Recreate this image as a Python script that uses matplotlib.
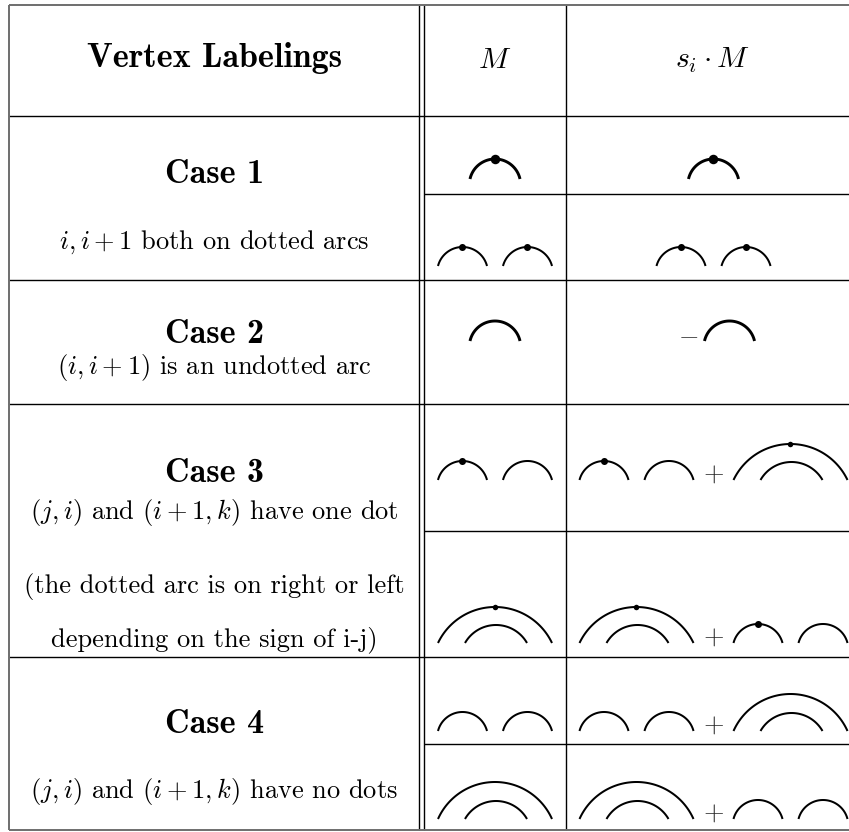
import matplotlib
matplotlib.use('Agg')
import matplotlib.pyplot as plt
import numpy as np

plt.rcParams['mathtext.fontset'] = 'cm'
plt.rcParams['font.family'] = 'cmr10'
plt.rcParams['axes.unicode_minus'] = False

# --- table text ---
header = ['Vertex Labelings', '$M$', r'$s_i \cdot M$']
case_titles = ['Case 1', 'Case 2', 'Case 3', 'Case 4']
case_notes = [
    ['$i, i+1$ both on dotted arcs'],
    ['$(i, i+1)$ is an undotted arc'],
    ['$(j, i)$ and $(i+1, k)$ have one dot',
     '(the dotted arc is on right or left',
     'depending on the sign of i-j)'],
    ['$(j, i)$ and $(i+1, k)$ have no dots'],
]

# --- arc diagrams: (left end, right end, height, dot) measured from the term's left end ---
one_dot = [(0, 50, 20, 'big')]
one_plain = [(0, 50, 20, None)]
two_dots = [(0, 49, 19, 'mid'), (65, 114, 19, 'mid')]
dot_plain = [(0, 49, 19, 'mid'), (65, 114, 19, None)]
two_plain = [(0, 49, 19, None), (65, 114, 19, None)]
nest_dot = [(0, 114, 36, 'small'), (27, 89, 18, None)]
nest_plain = [(0, 114, 37, None), (27, 89, 18, None)]

# one entry per diagram row, M column then s_i.M column
m_cells = [[one_dot], [two_dots], [one_plain], [dot_plain], [nest_dot],
           [two_plain], [nest_plain]]
s_cells = [[one_dot], [two_dots], ['-', one_plain],
           [dot_plain, '+', nest_dot], [nest_dot, '+', dot_plain],
           [two_plain, '+', nest_plain], [nest_plain, '+', two_plain]]

# --- layout (pixels) ---
W, H = 849, 832
x_left, x_dbl1, x_dbl2, x_mid, x_right = 9.5, 419, 424, 566, 860
y_top, y_bot = 5, 830
y_head = 116
y_case = [280, 404, 657]
y_sub = [194, 531, 744]
arc_base = [179, 266, 341, 480, 643, 731, 819]
title_base = [183, 343, 482, 733]
note_base = [[249], [374], [519, 593, 646], [798]]
op_width = {'+': 40, '-': 32}
dot_px = {'big': 9.5, 'mid': 7.0, 'small': 5.5}
thick_terms = [one_dot, one_plain]

fig = plt.figure(figsize=(W / 100, H / 100), dpi=100)
ax = fig.add_axes([0, 0, 1, 1])
ax.set_xlim(0, W)
ax.set_ylim(H, 0)
ax.axis('off')

# grid lines
lk = dict(color='black', lw=1.0, solid_capstyle='butt')
for x in [x_dbl1, x_dbl2, x_mid]:
    ax.plot([x, x], [y_top, y_bot], **lk)
for y in [y_head] + y_case:
    ax.plot([x_left, W], [y, y], **lk)
for y in y_sub:
    ax.plot([x_dbl2, W], [y, y], **lk)
bk = dict(color='#6e6e6e', lw=1.4, solid_capstyle='butt')
ax.plot([x_left, W], [y_top, y_top], **bk)
ax.plot([x_left, W], [y_bot, y_bot], **bk)
ax.plot([x_left, x_left], [y_top, y_bot], **bk)

# text
c1 = (x_left + x_dbl1) / 2
bold = dict(fontname='cmb10', fontsize=24.5, ha='center', va='baseline')
ax.text(c1, 67, header[0], **bold)
ax.text((x_dbl2 + x_mid) / 2, 68, header[1], fontsize=21.5, ha='center', va='baseline')
ax.text((x_mid + x_right) / 2, 68, header[2], fontsize=21.5, ha='center', va='baseline')
for title, tb, notes, nb in zip(case_titles, title_base, case_notes, note_base):
    ax.text(c1, tb, title, **bold)
    for note, b in zip(notes, nb):
        ax.text(c1, b, note, fontsize=19, ha='center', va='baseline')


def draw_arc(x0, x1, h, base, dot, lw):
    a = (x1 - x0) / 2
    r = (a * a + h * h) / (2 * h)
    cx = x0 + a
    cy = base - h + r
    t0 = np.arcsin((r - h) / r)
    t = np.linspace(t0, np.pi - t0, 80)
    ax.plot(cx + r * np.cos(t), cy - r * np.sin(t), color='black', lw=lw,
            solid_capstyle='butt')
    if dot:
        ax.plot(cx, base - h, 'o', color='black', ms=dot_px[dot] / 1.389, mew=0)


def item_width(item):
    if isinstance(item, str):
        return op_width[item]
    return max(arc[1] for arc in item)


def draw_cell(items, center, base):
    total = sum(item_width(it) for it in items)
    x = center - total / 2
    for it in items:
        w = item_width(it)
        if isinstance(it, str):
            sym = '$+$' if it == '+' else '$-$'
            ax.text(x + w / 2, base + 1, sym, fontsize=19, ha='center',
                    va='baseline', color='#222222')
        else:
            lw = 2.1 if any(it is t for t in thick_terms) else 1.45
            for x0, x1, h, dot in it:
                draw_arc(x + x0, x + x1, h, base, dot, lw)
        x += w


for items, base in zip(m_cells, arc_base):
    draw_cell(items, (x_dbl2 + x_mid) / 2, base)
for items, base in zip(s_cells, arc_base):
    draw_cell(items, 713.5, base)

fig.savefig('out.png', dpi=100)
